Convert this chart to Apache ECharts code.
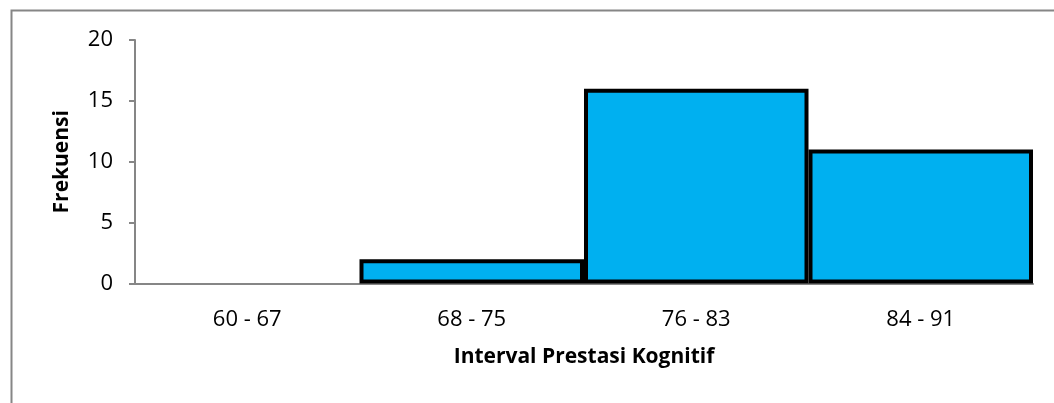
<!DOCTYPE html>
<html>
<head>
<meta charset="utf-8">
<script src="https://cdn.jsdelivr.net/npm/echarts@6/dist/echarts.min.js"></script>
<style>
  html, body { margin: 0; padding: 0; background: #fff; }
  #chart { width: 1054px; height: 403px; }
</style>
</head>
<body>
<div id="chart"></div>
<script>
// Frequency per score interval
const categories = ['60 - 67', '68 - 75', '76 - 83', '84 - 91'];
const frequencies = [0, 2, 16, 11];
const yTicks = [0, 5, 10, 15, 20];

const FONT = '"Open Sans", "Noto Sans", sans-serif';

// Empty classes get no outline so nothing is drawn along the baseline
const barItems = frequencies.map(v => ({
  value: v,
  itemStyle: v === 0 ? { borderWidth: 0 } : {}
}));

const chart = echarts.init(document.getElementById('chart'), null, { renderer: 'canvas' });
chart.setOption({
  animation: false,
  backgroundColor: '#ffffff',
  graphic: [{
    type: 'rect',
    shape: { x: 11.5, y: 10.5, width: 1200, height: 600 },
    style: { fill: 'none', stroke: '#868686', lineWidth: 2 },
    z: -1
  }],
  grid: { left: 135, right: 21, top: 40, bottom: 119.5 },
  xAxis: {
    type: 'category',
    data: categories,
    axisLine: { lineStyle: { color: '#868686', width: 2 } },
    axisTick: { show: false },
    axisLabel: { color: '#000', fontFamily: FONT, fontSize: 22, margin: 25 },
    name: 'Interval Prestasi Kognitif',
    nameLocation: 'middle',
    nameGap: 63,
    nameTextStyle: { color: '#000', fontFamily: FONT, fontSize: 21, fontWeight: 'bold' }
  },
  yAxis: {
    type: 'value',
    min: yTicks[0],
    max: yTicks[yTicks.length - 1],
    interval: yTicks[1] - yTicks[0],
    axisLine: { show: true, lineStyle: { color: '#868686', width: 2 } },
    axisTick: { show: true, length: 6, lineStyle: { color: '#868686', width: 2 } },
    splitLine: { show: false },
    axisLabel: { color: '#000', fontFamily: FONT, fontSize: 22, margin: 22 },
    name: 'Frekuensi',
    nameLocation: 'middle',
    nameGap: 62,
    nameTextStyle: { color: '#000', fontFamily: FONT, fontSize: 21, fontWeight: 'bold' }
  },
  series: [{
    type: 'bar',
    data: barItems,
    barCategoryGap: 0,
    itemStyle: { color: '#00B0F0', borderColor: '#000', borderWidth: 4 }
  }]
});
</script>
</body>
</html>
